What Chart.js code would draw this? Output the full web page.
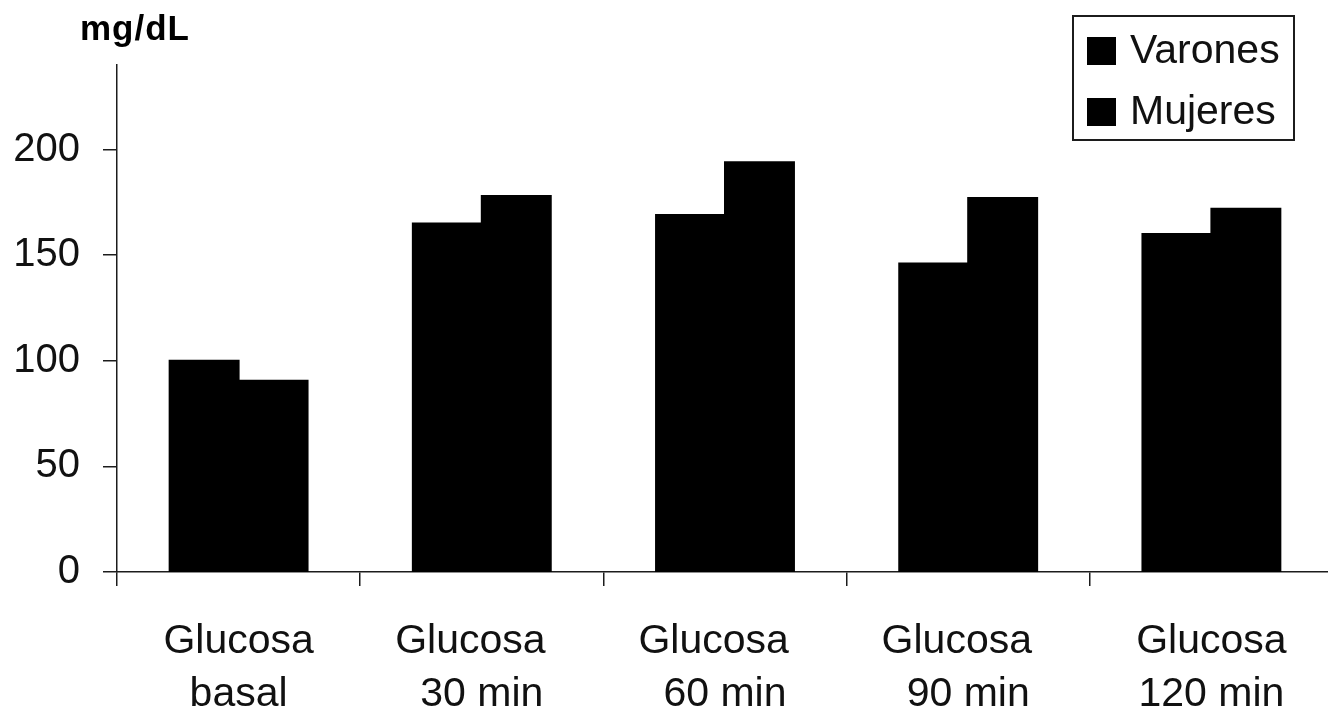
<!DOCTYPE html>
<html lang="es">
<head>
<meta charset="utf-8">
<title>Glucosa por sexo</title>
<script src="https://cdn.jsdelivr.net/npm/chart.js@4.4.1/dist/chart.umd.min.js"></script>
<style>
  html, body { margin: 0; padding: 0; background: #fff; overflow: hidden; }
  #wrap { position: relative; width: 1333px; height: 713px; }
</style>
</head>
<body>
<div id="wrap"><canvas id="c"></canvas></div>
<script>
// Curva de tolerancia oral a la glucosa (mg/dL)
const categories = [
  ['Glucosa', 'basal'],
  ['Glucosa  ', '30 min'],
  ['Glucosa  ', '60 min'],
  ['Glucosa  ', '90 min'],
  ['Glucosa', '120 min']
];
const varones = [100, 165, 169, 146, 160];
const mujeres = [90.5, 178, 194, 177, 172];
const seriesNames = ['Varones', 'Mujeres'];
const yTicks = [0, 50, 100, 150, 200];
const unitLabel = 'mg/dL';

const FONT = "'Liberation Sans', Arial, Helvetica, sans-serif";
const INK = '#1c1c1c';

// Unit caption above the value axis
const unitPlugin = {
  id: 'unitLabel',
  afterDraw(chart) {
    const ctx = chart.ctx;
    ctx.save();
    ctx.fillStyle = '#000';
    ctx.font = 'bold 35px ' + FONT;
    if ('letterSpacing' in ctx) ctx.letterSpacing = '1px';
    ctx.textAlign = 'left';
    ctx.textBaseline = 'alphabetic';
    ctx.fillText(unitLabel, 80, 40);
    ctx.restore();
  }
};

// Boxed legend in the upper right corner
const boxLegend = {
  id: 'boxLegend',
  afterDraw(chart) {
    const ctx = chart.ctx;
    const right = chart.width - 39;
    const left = right - 221;
    const top = 16, bottom = 140;
    ctx.save();
    ctx.fillStyle = '#fff';
    ctx.fillRect(left, top, right - left, bottom - top);
    ctx.strokeStyle = INK;
    ctx.lineWidth = 2;
    ctx.strokeRect(left, top, right - left, bottom - top);
    ctx.font = '41px ' + FONT;
    ctx.textAlign = 'left';
    ctx.textBaseline = 'middle';
    chart.data.datasets.forEach((ds, i) => {
      const cy = 51 + i * 61;
      ctx.fillStyle = ds.backgroundColor;
      ctx.fillRect(left + 14, cy - 14, 29, 28);
      ctx.fillStyle = '#111';
      ctx.fillText(ds.label, left + 57, cy + 1);
    });
    ctx.restore();
  }
};

new Chart(document.getElementById('c'), {
  type: 'bar',
  data: {
    labels: categories,
    datasets: [
      { label: seriesNames[0], data: varones, backgroundColor: '#000', borderWidth: 0, inflateAmount: 1 },
      { label: seriesNames[1], data: mujeres, backgroundColor: '#000', borderWidth: 0, inflateAmount: 1 }
    ]
  },
  options: {
    responsive: true,
    maintainAspectRatio: false,
    animation: false,
    layout: { padding: { top: 65, right: 0, bottom: 0, left: 0 } },
    plugins: {
      legend: { display: false },
      tooltip: { enabled: false },
      title: { display: false }
    },
    datasets: {
      bar: { categoryPercentage: 0.567, barPercentage: 1.0 }
    },
    scales: {
      x: {
        offset: true,
        grid: {
          offset: true,
          display: true,
          drawOnChartArea: false,
          drawTicks: true,
          tickLength: 14,
          color: INK,
          lineWidth: 1.5
        },
        border: { display: true, color: INK, width: 1.5 },
        ticks: {
          color: '#111',
          font: { family: FONT, size: 41, lineHeight: 1.3 },
          padding: 29,
          maxRotation: 0,
          autoSkip: false
        },
        afterFit(scale) { scale.height = 141; }
      },
      y: {
        min: 0,
        max: 240,
        afterBuildTicks(scale) {
          scale.ticks = yTicks.map(v => ({ value: v }));
        },
        grid: {
          display: true,
          drawOnChartArea: false,
          drawTicks: true,
          tickLength: 14,
          color: INK,
          lineWidth: 1.5
        },
        border: { display: true, color: INK, width: 1.5 },
        ticks: {
          color: '#111',
          font: { family: FONT, size: 40 },
          padding: 23
        },
        afterFit(scale) { scale.width = 117; }
      }
    }
  },
  plugins: [unitPlugin, boxLegend]
});
</script>
</body>
</html>
